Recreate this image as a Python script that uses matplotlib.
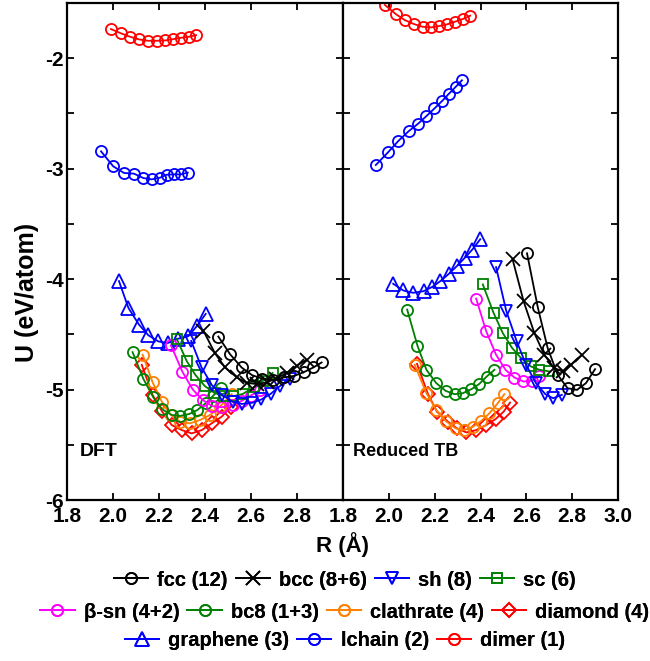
import matplotlib
matplotlib.use("Agg")
import matplotlib.pyplot as plt
from matplotlib.lines import Line2D
from matplotlib.ticker import MultipleLocator, FuncFormatter

plt.rcParams['font.family'] = ['Liberation Sans', 'DejaVu Sans']
plt.rcParams['font.weight'] = 'bold'

# ---------------- DFT (left panel) ----------------
fcc_R_dft = [2.458, 2.509, 2.559, 2.605, 2.647, 2.697, 2.743, 2.788, 2.830, 2.871, 2.907]
fcc_U_dft = [-4.52, -4.68, -4.80, -4.87, -4.90, -4.915, -4.89, -4.876, -4.842, -4.80, -4.755]
bcc_R_dft = [2.393, 2.443, 2.487, 2.538, 2.581, 2.625, 2.668, 2.710, 2.755, 2.798, 2.842]
bcc_U_dft = [-4.467, -4.67, -4.80, -4.89, -4.94, -4.95, -4.935, -4.90, -4.85, -4.785, -4.73]
sh_R_dft = [2.34, 2.385, 2.43, 2.475, 2.52, 2.56, 2.605, 2.645, 2.685, 2.725, 2.77]
sh_U_dft = [-4.56, -4.80, -4.96, -5.05, -5.11, -5.13, -5.12, -5.09, -5.04, -4.97, -4.90]
sc_R_dft = [2.277, 2.32, 2.359, 2.40, 2.441, 2.482, 2.523, 2.564, 2.612, 2.653, 2.694]
sc_U_dft = [-4.54, -4.74, -4.87, -4.97, -5.03, -5.06, -5.06, -5.04, -4.98, -4.92, -4.85]
bsn_R_dft = [2.252, 2.302, 2.347, 2.39, 2.431, 2.474, 2.52, 2.559, 2.599, 2.639]
bsn_U_dft = [-4.60, -4.84, -5.00, -5.094, -5.15, -5.16, -5.139, -5.103, -5.055, -5.003]
bc8_R_dft = [2.085, 2.132, 2.175, 2.212, 2.255, 2.291, 2.332, 2.367, 2.403, 2.436, 2.468]
bc8_U_dft = [-4.661, -4.903, -5.070, -5.176, -5.23, -5.239, -5.221, -5.185, -5.124, -5.055, -4.988]
cla_R_dft = [2.129, 2.172, 2.212, 2.252, 2.291, 2.335, 2.378, 2.422, 2.465, 2.516]
cla_U_dft = [-4.685, -4.933, -5.109, -5.23, -5.291, -5.306, -5.276, -5.23, -5.155, -5.042]
dia_R_dft = [2.125, 2.172, 2.212, 2.255, 2.299, 2.342, 2.386, 2.429, 2.473, 2.512]
dia_U_dft = [-4.776, -5.048, -5.194, -5.321, -5.367, -5.397, -5.367, -5.306, -5.245, -5.155]
gra_R_dft = [2.026, 2.067, 2.113, 2.154, 2.197, 2.238, 2.284, 2.327, 2.364, 2.403]
gra_U_dft = [-4.018, -4.261, -4.412, -4.509, -4.564, -4.579, -4.539, -4.518, -4.427, -4.315]
lch_R_dft = [1.948, 2.001, 2.048, 2.091, 2.132, 2.168, 2.204, 2.233, 2.265, 2.294, 2.325]
lch_U_dft = [-2.843, -2.979, -3.039, -3.045, -3.085, -3.097, -3.082, -3.055, -3.052, -3.052, -3.036]
dim_R_dft = [1.991, 2.035, 2.075, 2.114, 2.153, 2.190, 2.228, 2.262, 2.296, 2.329, 2.361]
dim_U_dft = [-1.736, -1.775, -1.806, -1.830, -1.842, -1.842, -1.839, -1.827, -1.815, -1.806, -1.791]

# ---------------- Reduced TB (right panel) ----------------
fcc_R_tb = [2.603, 2.650, 2.693, 2.737, 2.780, 2.821, 2.860, 2.900]
fcc_U_tb = [-3.767, -4.255, -4.624, -4.867, -4.988, -5.003, -4.942, -4.815]
bcc_R_tb = [2.540, 2.588, 2.635, 2.678, 2.722, 2.761, 2.794, 2.842]
bcc_U_tb = [-3.821, -4.20, -4.488, -4.685, -4.806, -4.836, -4.776, -4.685]
sh_R_tb = [2.468, 2.512, 2.558, 2.599, 2.642, 2.683, 2.717, 2.755]
sh_U_tb = [-3.891, -4.285, -4.564, -4.776, -4.942, -5.042, -5.079, -5.048]
sc_R_tb = [2.410, 2.457, 2.497, 2.538, 2.577, 2.620, 2.657, 2.700]
sc_U_tb = [-4.048, -4.306, -4.488, -4.624, -4.715, -4.791, -4.821, -4.836]
bsn_R_tb = [2.381, 2.425, 2.468, 2.509, 2.548, 2.587, 2.625, 2.657]
bsn_U_tb = [-4.176, -4.473, -4.685, -4.821, -4.891, -4.927, -4.921, -4.873]
bc8_R_tb = [2.080, 2.125, 2.164, 2.207, 2.248, 2.287, 2.323, 2.360, 2.393, 2.427, 2.461]
bc8_U_tb = [-4.276, -4.603, -4.821, -4.942, -5.012, -5.042, -5.033, -4.997, -4.952, -4.882, -4.821]
cla_R_tb = [2.113, 2.164, 2.207, 2.248, 2.291, 2.330, 2.367, 2.403, 2.439, 2.475, 2.504]
cla_U_tb = [-4.776, -5.033, -5.185, -5.285, -5.351, -5.367, -5.336, -5.285, -5.215, -5.124, -5.042]
dia_R_tb = [2.123, 2.171, 2.210, 2.258, 2.297, 2.338, 2.381, 2.425, 2.466, 2.501, 2.529]
dia_U_tb = [-4.767, -5.042, -5.20, -5.291, -5.351, -5.388, -5.367, -5.321, -5.267, -5.20, -5.118]
gra_R_tb = [2.019, 2.063, 2.106, 2.152, 2.190, 2.225, 2.262, 2.297, 2.332, 2.364, 2.399]
gra_U_tb = [-4.042, -4.103, -4.124, -4.109, -4.070, -4.018, -3.952, -3.882, -3.806, -3.733, -3.639]
lch_R_tb = [1.943, 1.997, 2.042, 2.087, 2.127, 2.164, 2.199, 2.232, 2.261, 2.291, 2.319]
lch_U_tb = [-2.967, -2.851, -2.748, -2.660, -2.594, -2.524, -2.455, -2.388, -2.324, -2.261, -2.20]
dim_R_tb = [1.983, 2.030, 2.070, 2.110, 2.147, 2.184, 2.219, 2.253, 2.288, 2.323, 2.355]
dim_U_tb = [-1.518, -1.600, -1.655, -1.691, -1.715, -1.721, -1.709, -1.694, -1.670, -1.645, -1.615]

labels = ['fcc (12)', 'bcc (8+6)', 'sh (8)', 'sc (6)',
          'β-sn (4+2)', 'bc8 (1+3)', 'clathrate (4)', 'diamond (4)',
          'graphene (3)', 'lchain (2)', 'dimer (1)']
colors = ['black', 'black', '#0000ff', '#008000',
          '#ff00ff', '#008000', '#ff8000', '#ff0000',
          '#0000ff', '#0000ff', '#ff0000']
markers = ['o', 'x', 'v', 's', 'o', 'o', 'o', 'D', '^', 'o', 'o']
msizes = [8, 10, 9, 6.5, 8, 8, 8, 7, 9.5, 8, 8]

dft = [(fcc_R_dft, fcc_U_dft), (bcc_R_dft, bcc_U_dft), (sh_R_dft, sh_U_dft), (sc_R_dft, sc_U_dft),
       (bsn_R_dft, bsn_U_dft), (bc8_R_dft, bc8_U_dft), (cla_R_dft, cla_U_dft), (dia_R_dft, dia_U_dft),
       (gra_R_dft, gra_U_dft), (lch_R_dft, lch_U_dft), (dim_R_dft, dim_U_dft)]
tb = [(fcc_R_tb, fcc_U_tb), (bcc_R_tb, bcc_U_tb), (sh_R_tb, sh_U_tb), (sc_R_tb, sc_U_tb),
      (bsn_R_tb, bsn_U_tb), (bc8_R_tb, bc8_U_tb), (cla_R_tb, cla_U_tb), (dia_R_tb, dia_U_tb),
      (gra_R_tb, gra_U_tb), (lch_R_tb, lch_U_tb), (dim_R_tb, dim_U_tb)]

W, H = 650, 661
fig = plt.figure(figsize=(W / 100, H / 100), dpi=100)
x0, xm, x1 = 67 / W, 343 / W, 618 / W
yb, yt = 1 - 500 / H, 1 - 3 / H
axL = fig.add_axes([x0, yb, xm - x0, yt - yb])
axR = fig.add_axes([xm, yb, x1 - xm, yt - yb])

draw_order = [10, 9, 8, 7, 6, 5, 4, 3, 2, 1, 0]
for ax, data in ((axL, dft), (axR, tb)):
    for i in draw_order:
        R, U = data[i]
        ax.plot(R, U, color=colors[i], marker=markers[i], markersize=msizes[i],
                markerfacecolor='none', markeredgecolor=colors[i], markeredgewidth=1.3,
                linewidth=1.3)
    ax.set_xlim(1.8, 3.0)
    ax.set_ylim(-6.0, -1.5)
    ax.xaxis.set_major_locator(MultipleLocator(0.2))
    ax.yaxis.set_major_locator(MultipleLocator(0.5))
    ax.tick_params(direction='in', length=5, width=1.3, top=True, right=True,
                   labelsize=15, pad=2)
    ax.tick_params(axis='x', pad=5)
    for sp in ax.spines.values():
        sp.set_linewidth(1.6)

axL.xaxis.set_major_formatter(FuncFormatter(lambda v, p: '' if v > 2.9 else f'{v:.1f}'))
axR.xaxis.set_major_formatter(FuncFormatter(lambda v, p: f'{v:.1f}'))
axL.yaxis.set_major_formatter(FuncFormatter(lambda v, p: f'{v:.0f}' if abs(v - round(v)) < 1e-6 else ''))
axR.tick_params(labelleft=False)

fig.text(27 / W, 1 - 292 / H, 'U (eV/atom)', rotation=90, ha='center', va='center',
         fontsize=18, fontweight='bold')
fig.text((x0 + x1) / 2, 1 - 545 / H, 'R (Å)', ha='center', va='center',
         fontsize=16, fontweight='bold')

axL.text(0.045, 0.097, 'DFT', transform=axL.transAxes, fontsize=14, fontweight='bold',
         ha='left', va='center')
axR.text(0.035, 0.097, 'Reduced TB', transform=axR.transAxes, fontsize=13, fontweight='bold',
         ha='left', va='center')

handles = [Line2D([], [], color=colors[i], marker=markers[i], markersize=msizes[i],
                  markerfacecolor='none', markeredgecolor=colors[i], markeredgewidth=1.3,
                  linewidth=1.3) for i in range(11)]
rows = [(range(0, 4), 580), (range(4, 8), 612), (range(8, 11), 641)]
for idx, ypix in rows:
    idx = list(idx)
    leg = fig.legend([handles[i] for i in idx], [labels[i] for i in idx],
                     loc='center', bbox_to_anchor=(345 / W, 1 - ypix / H), ncol=len(idx),
                     frameon=False, fontsize=14.5, handlelength=1.7, handletextpad=0.45,
                     columnspacing=0.4, borderpad=0, borderaxespad=0)
    for t in leg.get_texts():
        t.set_fontweight('bold')
    fig.add_artist(leg)

fig.savefig('out.png', dpi=100)
